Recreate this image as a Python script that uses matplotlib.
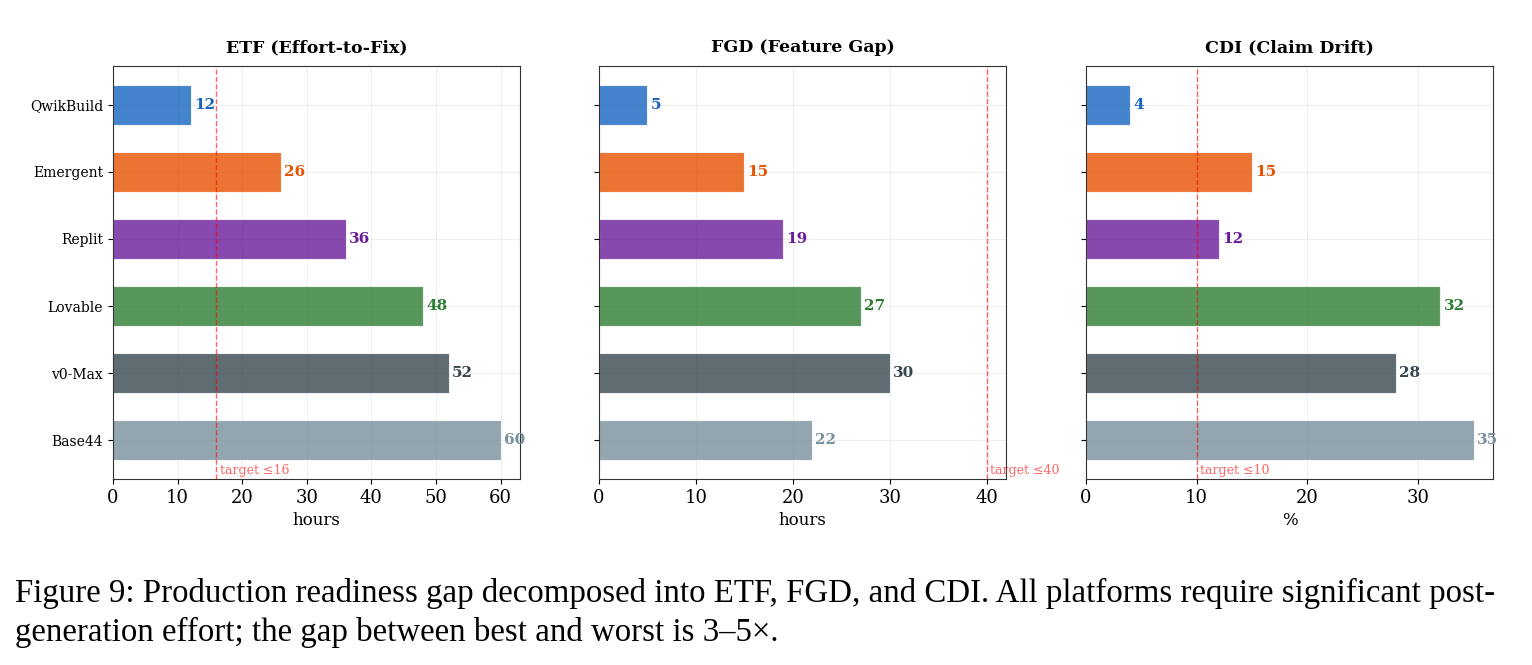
import matplotlib.pyplot as plt
from matplotlib.ticker import MultipleLocator

# data
platforms = ['QwikBuild', 'Emergent', 'Replit', 'Lovable', 'v0-Max', 'Base44']
etf = [12, 26, 36, 48, 52, 60]
fgd = [5, 15, 19, 27, 30, 22]
cdi = [4, 15, 12, 32, 28, 35]
targets = [16, 40, 10]
titles = ['ETF (Effort-to-Fix)', 'FGD (Feature Gap)', 'CDI (Claim Drift)']
units = ['hours', 'hours', '%']
colors = ['#1565C0', '#E65100', '#6A1B9A', '#2E7D32', '#37474F', '#78909C']

plt.rcParams['font.family'] = ['DejaVu Serif']

fig = plt.figure(figsize=(15.32, 6.65), dpi=100)
lefts = [113, 599, 1086]
width = 407
axes = []
for i, l in enumerate(lefts):
    ax = fig.add_axes([l / 1532, 1 - 479 / 665, width / 1532, (479 - 66) / 665],
                      sharey=axes[0] if axes else None)
    axes.append(ax)

for i, (ax, vals) in enumerate(zip(axes, [etf, fgd, cdi])):
    y = range(len(platforms))
    ax.barh(y, vals, height=0.6, color=colors, alpha=0.8, edgecolor='white', linewidth=0.8)
    ax.set_yticks(list(y))
    ax.set_yticklabels(platforms, fontsize=10)
    if i > 0:
        ax.tick_params(axis='y', labelleft=False)
    xmax = max(max(vals), targets[i]) * 1.05
    ax.set_xlim(0, xmax)
    ax.xaxis.set_major_locator(MultipleLocator(10))
    for j, v in enumerate(vals):
        ax.text(v + xmax * 0.008, j, str(v), va='center', ha='left',
                fontsize=11, fontweight='bold', color=colors[j])
    ax.axvline(targets[i], color='red', linestyle='--', linewidth=1, alpha=0.6)
    ax.text(targets[i] + xmax * 0.008, 5.45, f'target ≤{targets[i]}', fontsize=9,
            color='red', alpha=0.6, va='center', ha='left')
    ax.set_title(titles[i], fontsize=12.5, fontweight='bold', pad=10)
    ax.set_xlabel(units[i], fontsize=12)
    ax.tick_params(axis='x', labelsize=13)
    ax.grid(True, alpha=0.2)
    ax.set_axisbelow(True)
    for s in ax.spines.values():
        s.set_color('#333333')

axes[0].invert_yaxis()

fig.text(15 / 1532, 1 - 593 / 665,
         'Figure 9: Production readiness gap decomposed into ETF, FGD, and CDI. All platforms require significant post-',
         fontsize=23.7, family='Liberation Serif', va='center', ha='left')
fig.text(15 / 1532, 1 - 632 / 665,
         'generation effort; the gap between best and worst is 3–5×.',
         fontsize=23.7, family='Liberation Serif', va='center', ha='left')

fig.savefig('out.png', dpi=100)
